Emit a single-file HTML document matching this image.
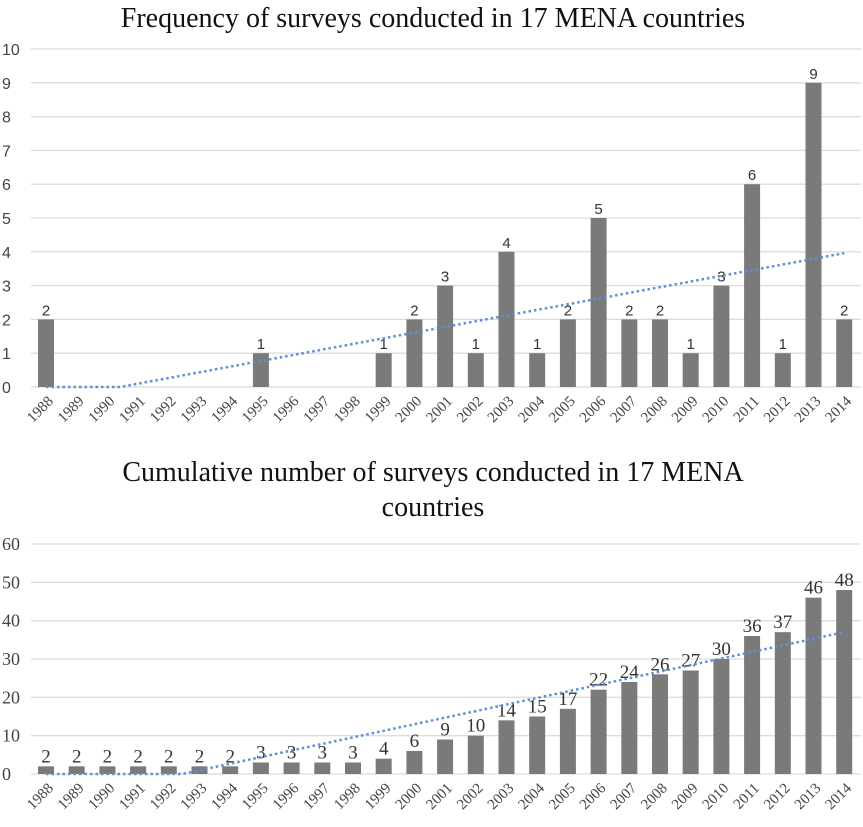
<!DOCTYPE html>
<html><head><meta charset="utf-8"><style>
body{margin:0;background:#fff;width:863px;height:827px;overflow:hidden}
svg{display:block}
</style></head><body>
<svg id="c" width="863" height="827" xmlns="http://www.w3.org/2000/svg">
<text x="433" y="27" text-anchor="middle" font-family="Liberation Serif, serif" font-size="28" fill="#111">Frequency of surveys conducted in 17 MENA countries</text>
<text x="433" y="481" text-anchor="middle" font-family="Liberation Serif, serif" font-size="28" fill="#111">Cumulative number of surveys conducted in 17 MENA</text>
<text x="433" y="516" text-anchor="middle" font-family="Liberation Serif, serif" font-size="28" fill="#111">countries</text>
<g id="top"></g><g id="bot"></g>
</svg>
<script>
const years=["1988","1989","1990","1991","1992","1993","1994","1995","1996","1997","1998","1999","2000","2001","2002","2003","2004","2005","2006","2007","2008","2009","2010","2011","2012","2013","2014"];
const freq=[2,0,0,0,0,0,0,1,0,0,0,1,2,3,1,4,1,2,5,2,2,1,3,6,1,9,2];
const cumul=[2,2,2,2,2,2,2,3,3,3,3,4,6,9,10,14,15,17,22,24,26,27,30,36,37,46,48];
const topTicks=[0,1,2,3,4,5,6,7,8,9,10];
const botTicks=[0,10,20,30,40,50,60];
const NS="http://www.w3.org/2000/svg";
function mk(p,t,a){const e=document.createElementNS(NS,t);for(const k in a)e.setAttribute(k,a[k]);p.appendChild(e);return e;}
function xs(i){return 46+i*30.7;}
function draw(gid,vals,ticks,y0,y1,max,font,lblFont,lblSize,pref,tickFont,tickSize){
  const g=document.getElementById(gid);
  const ys=v=>y0-(v/max)*(y0-y1);
  ticks.forEach(t=>{
    const l=mk(g,'line',{x1:31,x2:861,y1:ys(t),y2:ys(t),stroke:'#dcdcdc','stroke-width':1.3});
    
    
    const tx=mk(g,'text',{x:2,y:ys(t)+6,'font-family':tickFont,'font-size':tickSize,fill:'#444'});
    tx.textContent=t;
    
    
  });
  vals.forEach((v,i)=>{
    const x=xs(i);
    if(v>0){
      const r=mk(g,'rect',{x:x-8,y:ys(v),width:16,height:y0-ys(v),fill:'#7a7a7a'});
      
      
      const t=mk(g,'text',{x:x,y:ys(v)-4,'text-anchor':'middle','font-family':lblFont,'font-size':lblSize,fill:'#333'});
      t.textContent=v;
      
      
    }
    const xl=mk(g,'text',{x:0,y:0,'text-anchor':'end','font-family':font,'font-size':15,fill:'#444',transform:`translate(${x+8},${y0+15}) rotate(-45)`});
    xl.textContent=years[i];
    
    
  });
  const n=vals.length;let sx=0,sy=0,sxy=0,sxx=0;
  vals.forEach((v,i)=>{sx+=i;sy+=v;sxy+=i*v;sxx+=i*i;});
  const b=(n*sxy-sx*sy)/(n*sxx-sx*sx),a=(sy-b*sx)/n;
  let pts=[];for(let i=0;i<=(n-1)*10;i++){const xi=i/10;pts.push(xs(xi).toFixed(1)+','+ys(Math.max(0,a+b*xi)).toFixed(1));}
  const p=mk(g,'polyline',{points:pts.join(' '),fill:'none',stroke:'#5b8fd6','stroke-width':2.5,'stroke-dasharray':'2.5 3'});
  
  
}
draw('top',freq,topTicks,387,49,10,'Liberation Serif, serif','Liberation Sans, sans-serif',15,'freq','Liberation Sans, sans-serif',16);
draw('bot',cumul,botTicks,774,544,60,'Liberation Serif, serif','Liberation Serif, serif',19,'cumul','Liberation Serif, serif',18);
</script>
</body></html>
